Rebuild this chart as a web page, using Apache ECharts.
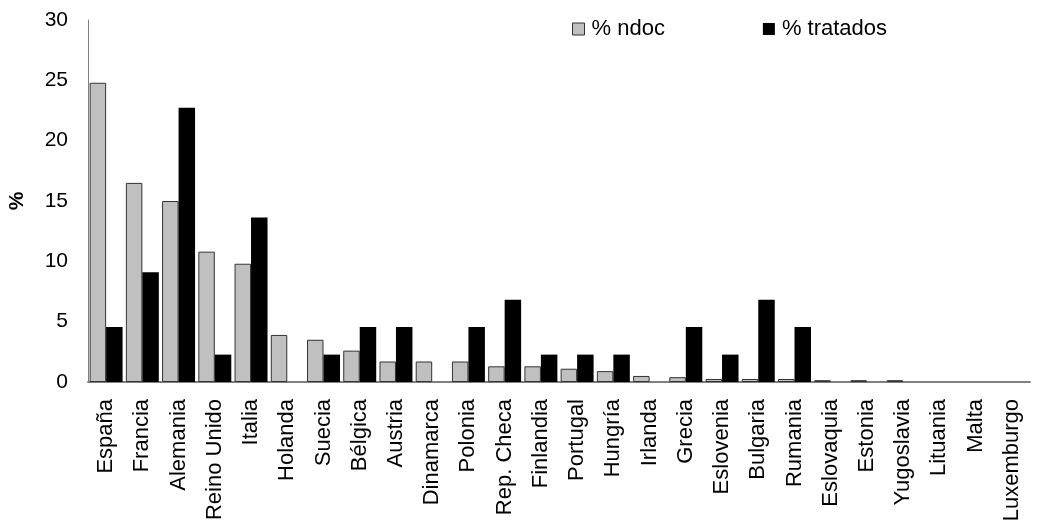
<!DOCTYPE html>
<html><head><meta charset="utf-8">
<script src="https://cdn.jsdelivr.net/npm/echarts@6/dist/echarts.min.js"></script>
<style>html,body{margin:0;padding:0;background:#fff}#c{width:1037px;height:527px}</style>
</head><body><div id="c"></div>
<script>
const categories = ["España","Francia","Alemania","Reino Unido","Italia","Holanda","Suecia","Bélgica","Austria","Dinamarca","Polonia","Rep. Checa","Finlandia","Portugal","Hungría","Irlanda","Grecia","Eslovenia","Bulgaria","Rumania","Eslovaquia","Estonia","Yugoslavia","Lituania","Malta","Luxemburgo"];
const ndoc = [24.8,16.5,15.0,10.8,9.8,3.9,3.5,2.6,1.7,1.7,1.7,1.3,1.3,1.1,0.9,0.5,0.4,0.25,0.25,0.25,0.15,0.15,0.15,0,0,0];
const tratados = [4.55,9.09,22.73,2.27,13.64,0,2.27,4.55,4.55,0,4.55,6.82,2.27,2.27,2.27,0,4.55,2.27,6.82,4.55,0,0,0,0,0,0];
const yTicks = [0,5,10,15,20,25,30];

const font = '"Liberation Sans", Arial, sans-serif';
function items(arr){
  return arr.map(v => v === 0 ? {value:v,itemStyle:{borderWidth:0,opacity:0}} : v);
}
const chart = echarts.init(document.getElementById('c'));
chart.setOption({
  animation:false,
  grid:{left:88,top:20,right:7,bottom:145,containLabel:false,outerBoundsMode:'none'},
  legend:{
    top:13,left:567,itemGap:98,itemWidth:12,itemHeight:12,
    textStyle:{fontFamily:font,fontSize:22,color:'#000',padding:[0,0,0,2]},
    data:[{name:'% ndoc',icon:'rect',itemStyle:{borderColor:'#333',borderWidth:1}},{name:'% tratados',icon:'rect'}]
  },
  xAxis:{
    type:'category',data:categories,
    axisLine:{lineStyle:{color:'#808080',width:2}},
    axisTick:{show:false},
    axisLabel:{rotate:90,fontFamily:font,fontSize:22,color:'#000',margin:17,interval:0}
  },
  yAxis:{
    type:'value',min:yTicks[0],max:yTicks[yTicks.length-1],interval:5,
    name:'%',nameLocation:'middle',nameGap:60,nameRotate:90,
    nameTextStyle:{fontFamily:font,fontSize:21,fontWeight:'bold',color:'#000'},
    axisLine:{show:true,lineStyle:{color:'#808080',width:1}},
    axisTick:{show:false},
    splitLine:{show:false},
    axisLabel:{fontFamily:font,fontSize:21,color:'#000',margin:20}
  },
  series:[
    {name:'% ndoc',type:'bar',data:items(ndoc),barGap:'0%',barCategoryGap:'9%',
     itemStyle:{color:'#c0c0c0',borderColor:'#333',borderWidth:1}},
    {name:'% tratados',type:'bar',data:items(tratados),
     itemStyle:{color:'#000',borderColor:'#000',borderWidth:0}}
  ]
});
</script></body></html>
